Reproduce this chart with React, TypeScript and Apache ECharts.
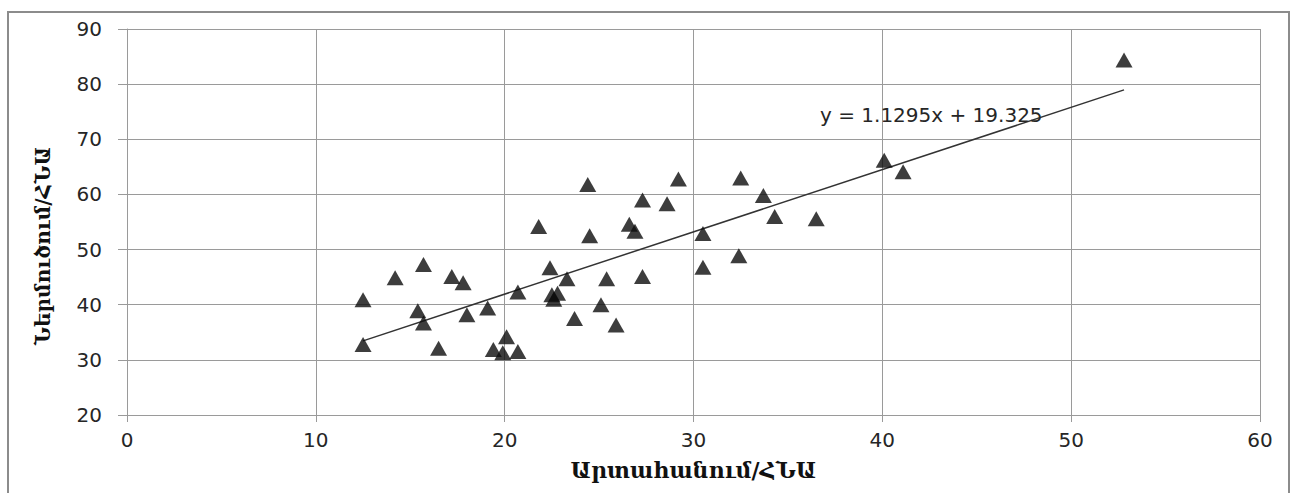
import { useEffect, useRef } from "react";
import * as echarts from "echarts";

// Export/GDP (x) and Import/GDP (y)
const exportShare = [
  12.5, 12.5, 14.2, 15.7, 15.4, 15.7, 16.5, 17.2, 17.8, 18.0, 19.1, 19.4, 20.1, 19.9, 20.7,
  20.7, 21.8, 22.4, 22.5, 22.8, 22.6, 23.3, 23.7, 24.4, 24.5, 25.4, 25.1, 25.9, 26.6, 26.9,
  27.3, 27.3, 28.6, 29.2, 30.5, 30.5, 32.4, 32.5, 33.7, 34.3, 36.5, 40.1, 41.1, 52.8,
];
const importShare = [
  40.9, 32.8, 44.9, 47.3, 38.9, 36.7, 32.1, 45.1, 44.0, 38.2, 39.4, 31.9, 34.2, 31.3, 31.5,
  42.3, 54.2, 46.7, 41.8, 42.1, 41.0, 44.7, 37.5, 61.8, 52.5, 44.7, 40.0, 36.3, 54.6, 53.3,
  59.0, 45.1, 58.3, 62.8, 52.9, 46.8, 48.9, 63.0, 59.8, 56.0, 55.6, 66.2, 64.1, 84.4,
];

const trendSlope = 1.1295;
const trendIntercept = 19.325;
const trendRange = [12.5, 52.8];
const equationLabel = "y = 1.1295x + 19.325";

const xAxisTitle = "Արտահանում/ՀՆԱ";
const yAxisTitle = "Ներմուծում/ՀՆԱ";

export default function App() {
  const ref = useRef<HTMLDivElement>(null);

  useEffect(() => {
    if (!ref.current) return;
    const chart = echarts.init(ref.current, undefined, { renderer: "svg" });
    const points = exportShare.map((x, i) => [x, importShare[i]]);
    const trend = trendRange.map((x) => [x, trendSlope * x + trendIntercept]);
    const tickFont = {
      fontFamily: "DejaVu Sans, sans-serif",
      fontSize: 20,
      color: "#262626",
    };
    const titleFamily = "DejaVu Serif, Noto Sans, serif";
    const gray = "#9a9a9a";
    chart.setOption({
      animation: false,
      backgroundColor: "#fff",
      grid: { left: 127, right: 36, top: 29, bottom: 78, containLabel: false },
      xAxis: {
        type: "value",
        min: 0,
        max: 60,
        interval: 10,
        name: xAxisTitle,
        nameLocation: "middle",
        nameGap: 44,
        nameTextStyle: {
          fontFamily: titleFamily,
          fontWeight: "bold",
          fontSize: 22,
          color: "#111",
        },
        axisLine: { show: true, onZero: false, lineStyle: { color: gray, width: 1 } },
        axisTick: { show: true, length: 7, lineStyle: { color: gray } },
        axisLabel: { ...tickFont, margin: 15 },
        splitLine: { show: true, lineStyle: { color: gray, width: 1 } },
      },
      yAxis: {
        type: "value",
        min: 20,
        max: 90,
        interval: 10,
        axisLine: { show: true, onZero: false, lineStyle: { color: gray, width: 1 } },
        axisTick: { show: true, length: 9, lineStyle: { color: gray } },
        axisLabel: { ...tickFont, margin: 25 },
        splitLine: { show: true, lineStyle: { color: gray, width: 1 } },
      },
      graphic: [
        {
          type: "rect",
          shape: { x: 8, y: 12, width: 1281, height: 500 },
          style: { fill: "none", stroke: "#8c8c8c", lineWidth: 2 },
          silent: true,
          z: 100,
        },
        {
          type: "text",
          x: 43,
          y: 246,
          rotation: Math.PI / 2,
          style: {
            text: yAxisTitle,
            fontFamily: titleFamily,
            fontWeight: "bold",
            fontSize: 20,
            fill: "#111",
            align: "center",
            verticalAlign: "middle",
          },
          z: 100,
        },
        {
          type: "text",
          x: 820,
          y: 115,
          style: {
            text: equationLabel,
            fontFamily: "DejaVu Sans, sans-serif",
            fontSize: 20,
            fill: "#262626",
            align: "left",
            verticalAlign: "middle",
          },
          z: 100,
        },
      ],
      series: [
        {
          type: "line",
          data: trend,
          symbol: "none",
          lineStyle: { color: "#333", width: 1.5 },
          z: 3,
        },
        {
          type: "scatter",
          data: points,
          symbol: "triangle",
          symbolSize: [17, 15],
          itemStyle: { color: "#0d0d0d" },
          z: 4,
        },
      ],
    });
    return () => chart.dispose();
  }, []);

  return (
    <div
      ref={ref}
      style={{ position: "absolute", left: 0, top: 0, width: 1296, height: 493 }}
    />
  );
}
